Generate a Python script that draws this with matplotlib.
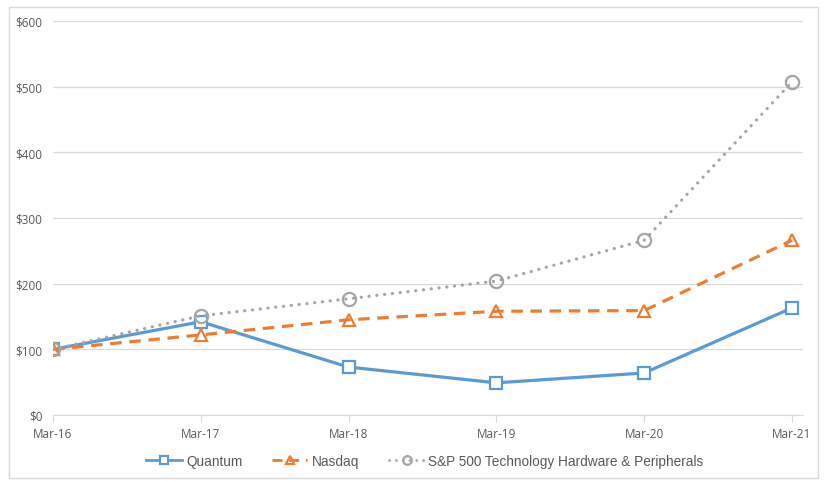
import matplotlib.pyplot as plt
from matplotlib.patches import Rectangle
from matplotlib.ticker import FuncFormatter

# data
dates = ["Mar-16", "Mar-17", "Mar-18", "Mar-19", "Mar-20", "Mar-21"]
quantum = [100, 142, 73, 49, 64, 163]
nasdaq = [100, 122, 145, 158, 159, 266]
sp_tech = [100, 151, 177, 204, 266, 507]

fig = plt.figure(figsize=(8.29, 4.89), dpi=100)
W, H = 829, 489
ax = fig.add_axes([53 / W, 1 - 416 / H, (803 - 53) / W, (416 - 22) / H])

# outer chart border
fig.patches.append(Rectangle((9 / W, 1 - 479 / H), (818 - 9) / W, (479 - 8) / H,
                             transform=fig.transFigure, fill=False,
                             edgecolor="#d9d9d9", linewidth=1))

x = list(range(len(dates)))
ax.plot(x, quantum, color="#5b9bd5", lw=2.3, marker="s", ms=8.5,
        mfc="white", mec="#5b9bd5", mew=1.6, label="Quantum", zorder=3)
ax.plot(x, nasdaq, color="#ed7d31", lw=2.3, ls=(0, (3.6, 2.4)), marker="^", ms=9,
        mfc="none", mec="#ed7d31", mew=1.6, label="Nasdaq", zorder=3)
ax.plot(x, sp_tech, color="#a5a5a5", lw=2.3, ls=(0, (0.05, 2.4)),
        dash_capstyle="round", marker="o", ms=9.5, mfc="none", mec="#a5a5a5",
        mew=1.6, label="S&P 500 Technology Hardware & Peripherals", zorder=3)

ax.set_xlim(0, 5.075)
ax.set_ylim(0, 600)
ax.set_yticks(range(0, 601, 100))
ax.yaxis.set_major_formatter(FuncFormatter(lambda v, p: f"${v:.0f}"))
ax.set_xticks(x)
ax.set_xticklabels(dates)
ax.grid(axis="y", color="#d9d9d9", lw=0.9)
ax.set_axisbelow(True)
for s in ["top", "right", "left"]:
    ax.spines[s].set_visible(False)
ax.spines["bottom"].set_color("#d9d9d9")
ax.tick_params(axis="y", length=0, pad=7.5, labelsize=8.5, labelcolor="#595959")
ax.tick_params(axis="x", length=5, color="#d9d9d9", pad=4, labelsize=8.5,
               labelcolor="#595959")
for lab in ax.get_xticklabels() + ax.get_yticklabels():
    lab.set_family("Open Sans")

leg = fig.legend(loc="center", bbox_to_anchor=(425 / W, 1 - 462 / H), ncol=3,
                 frameon=False, handlelength=2.6, columnspacing=2.2,
                 handletextpad=0.3, markerscale=0.65,
                 prop={"family": "Liberation Sans", "size": 9.8})
for t in leg.get_texts():
    t.set_color("#595959")
for h in leg.legend_handles:
    h.set_linewidth(2.0)

fig.savefig("out.png", dpi=100)
